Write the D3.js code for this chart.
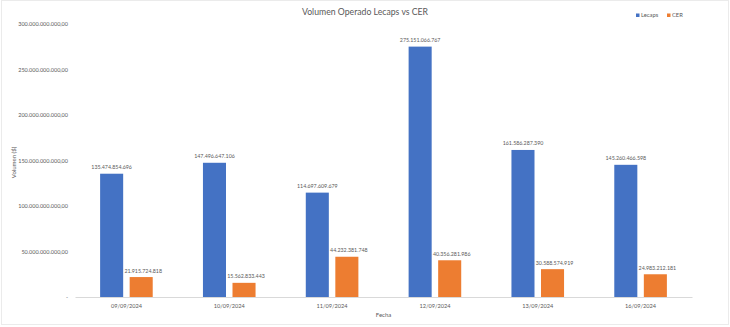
<!DOCTYPE html>
<html>
<head>
<meta charset="utf-8">
<script src="https://cdn.jsdelivr.net/npm/d3@7"></script>
<style>
  html, body { margin: 0; padding: 0; background: #fff; }
  svg { display: block; }
  text { font-family: Lato, "Open Sans", sans-serif; fill: #595959; }
</style>
</head>
<body>
<svg id="chart" width="730" height="327"></svg>
<script>
// Fechas de operación
const fechas = ["09/09/2024", "10/09/2024", "11/09/2024", "12/09/2024", "13/09/2024", "16/09/2024"];
// Volumen operado por serie ($)
const lecaps = [135474854696, 147496647106, 114697609679, 275151066767, 161586287390, 145260466598];
const cer = [21915724818, 15562833443, 44232381748, 40356281986, 30588574919, 24983212181];
const series = ["Lecaps", "CER"];
const colores = ["#4472C4", "#ED7D31"];
// Marcas del eje vertical
const yTicks = [0, 50e9, 100e9, 150e9, 200e9, 250e9, 300e9];

const es = d3.formatLocale({ decimal: ",", thousands: ".", grouping: [3], currency: ["$", ""] });
const fmtEje = es.format(",.2f");
const fmtValor = es.format(",.0f");

const svg = d3.select("#chart");
const W = 730, H = 327;
const m = { left: 75, right: 38, top: 24, bottom: 30 };

// Marco del gráfico
svg.append("rect")
  .attr("x", 1.5).attr("y", 0.5).attr("width", W - 3).attr("height", H - 3)
  .attr("fill", "#fff").attr("stroke", "#ebebeb");

const x0 = d3.scaleBand().domain(fechas).range([m.left, W - m.right]).paddingInner(0).paddingOuter(0);
const x1 = d3.scaleBand().domain(series).range([0, x0.bandwidth()]).paddingInner(0.22).paddingOuter(0.85);
const y = d3.scaleLinear().domain([0, 300e9]).range([H - m.bottom, m.top]);

// Título
svg.append("text")
  .attr("x", 365).attr("y", 14.5)
  .attr("text-anchor", "middle")
  .style("font-size", "8.7px")
  .text("Volumen Operado Lecaps vs CER");

// Eje Y (solo etiquetas)
const yAxis = svg.append("g")
  .attr("transform", `translate(${m.left - 7},0)`)
  .call(d3.axisLeft(y).tickValues(yTicks).tickSize(0).tickPadding(0)
    .tickFormat(d => d === 0 ? "-" : fmtEje(d)));
yAxis.select(".domain").remove();
yAxis.selectAll("text").style("font-size", "5.5px").attr("fill", "#6a6a6a")
  .style("font-family", "Lato, 'Open Sans', sans-serif");

// Eje X
const xAxis = svg.append("g")
  .attr("transform", `translate(0,${y(0)})`)
  .call(d3.axisBottom(x0).tickSize(0).tickPadding(7));
xAxis.select(".domain").attr("stroke", "#d9d9d9").attr("stroke-width", 1);
xAxis.selectAll("text").style("font-size", "5.6px").attr("fill", "#595959")
  .style("font-family", "Lato, 'Open Sans', sans-serif");

// Barras
const datos = fechas.map((f, i) => ({ fecha: f, valores: [
  { serie: "Lecaps", valor: lecaps[i] },
  { serie: "CER", valor: cer[i] }
]}));

const grupos = svg.append("g").selectAll("g")
  .data(datos).join("g")
  .attr("transform", d => `translate(${x0(d.fecha)},0)`);

grupos.selectAll("rect")
  .data(d => d.valores).join("rect")
  .attr("x", d => x1(d.serie))
  .attr("width", x1.bandwidth())
  .attr("y", d => y(d.valor))
  .attr("height", d => y(0) - y(d.valor))
  .attr("fill", (d, i) => colores[i]);

grupos.selectAll("text.valor")
  .data(d => d.valores).join("text")
  .attr("class", "valor")
  .attr("x", d => x1(d.serie) + x1.bandwidth() / 2 + (d.serie === "CER" ? 2 : 0))
  .attr("y", d => y(d.valor) - 4.5)
  .attr("text-anchor", "middle")
  .style("font-size", "5.3px")
  .attr("fill", "#404040")
  .text(d => fmtValor(d.valor));

// Títulos de ejes
svg.append("text")
  .attr("transform", `translate(15.5,${(m.top + H - m.bottom) / 2 + 2}) rotate(-90)`)
  .attr("text-anchor", "middle")
  .style("font-size", "6px")
  .text("Volumen ($)");

svg.append("text")
  .attr("x", (m.left + W - m.right) / 2).attr("y", 317)
  .attr("text-anchor", "middle")
  .style("font-size", "6px")
  .text("Fecha");

// Leyenda
const leyenda = svg.append("g").attr("transform", "translate(636,13.5)");
series.forEach((s, i) => {
  const g = leyenda.append("g").attr("transform", `translate(${i * 31},0)`);
  g.append("rect").attr("width", 3.5).attr("height", 3.5).attr("fill", colores[i]);
  g.append("text").attr("x", 5).attr("y", 3.6).style("font-size", "5.8px").text(s);
});
</script>
</body>
</html>
